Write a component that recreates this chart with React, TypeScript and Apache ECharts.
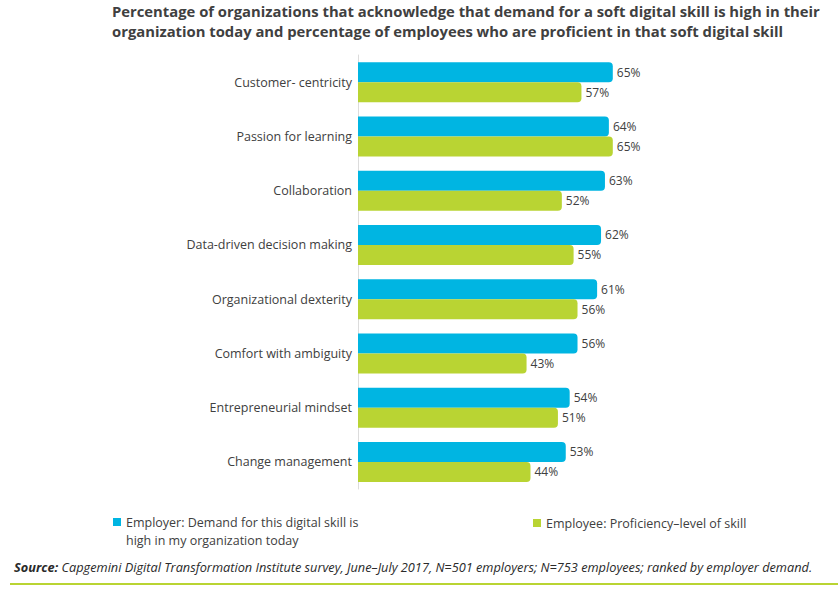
import React, { useEffect, useRef } from "react";
import * as echarts from "echarts";

const categories = [
  "Customer- centricity",
  "Passion for learning",
  "Collaboration",
  "Data-driven decision making",
  "Organizational dexterity",
  "Comfort with ambiguity",
  "Entrepreneurial mindset",
  "Change management",
];
const employerDemand = [65, 64, 63, 62, 61, 56, 54, 53];
const employeeProficiency = [57, 65, 52, 55, 56, 43, 51, 44];
const seriesNames = [
  "Employer: Demand for this digital skill is\nhigh in my organization today",
  "Employee: Proficiency–level of skill",
];
const titleText =
  "Percentage of organizations that acknowledge that demand for a soft digital skill is high in their\norganization today and percentage of employees who are proficient in that soft digital skill";

const FONT = "'Open Sans', 'Noto Sans', sans-serif";
const BLUE = "#00b5e2";
const GREEN = "#b9d433";
const TEXT = "#404040";

export default function App() {
  const ref = useRef<HTMLDivElement>(null);
  useEffect(() => {
    document.body.style.margin = "0";
    const chart = echarts.init(ref.current!, null, { renderer: "svg" });
    const label = {
      show: true,
      position: "right",
      distance: 4,
      formatter: "{c}%",
      color: TEXT,
      fontSize: 12,
      fontFamily: FONT,
    };
    const legendText = { color: TEXT, fontSize: 12.5, fontFamily: FONT, lineHeight: 18 };
    chart.setOption({
      animation: false,
      textStyle: { fontFamily: FONT },
      title: {
        text: titleText,
        left: 112,
        top: 1,
        padding: 0,
        textStyle: {
          fontFamily: FONT,
          fontSize: 14.8,
          fontWeight: "bold",
          color: TEXT,
          lineHeight: 20,
        },
      },
      legend: [
        {
          data: [seriesNames[0]],
          left: 113,
          top: 513,
          padding: 0,
          icon: "path://M0,0h8v8h-8z M0,26h0.01v0.01h-0.01z",
          symbolKeepAspect: false,
          itemWidth: 8,
          itemHeight: 26,
          itemGap: 5,
          selectedMode: false,
          textStyle: legendText,
        },
        {
          data: [seriesNames[1]],
          left: 533,
          top: 514,
          padding: 0,
          icon: "rect",
          itemWidth: 8,
          itemHeight: 8,
          itemGap: 5,
          selectedMode: false,
          textStyle: legendText,
        },
      ],
      grid: { left: 358, top: 55, width: 392, height: 434, containLabel: false },
      xAxis: {
        type: "value",
        min: 0,
        max: 100,
        show: false,
      },
      yAxis: {
        type: "category",
        data: categories,
        inverse: true,
        axisLine: { show: true, lineStyle: { color: "#dcdcdc", width: 1 } },
        axisTick: { show: false },
        axisLabel: {
          color: TEXT,
          fontSize: 12.5,
          fontFamily: FONT,
          margin: 6,
        },
      },
      series: [
        {
          name: seriesNames[0],
          type: "bar",
          data: employerDemand,
          barWidth: 20,
          barGap: "0%",
          itemStyle: { color: BLUE, borderRadius: [0, 4, 4, 0] },
          label,
        },
        {
          name: seriesNames[1],
          type: "bar",
          data: employeeProficiency,
          barWidth: 20,
          barGap: "0%",
          itemStyle: { color: GREEN, borderRadius: [0, 4, 4, 0] },
          label,
        },
      ],
      graphic: [
        {
          type: "text",
          left: 14,
          top: 560,
          style: {
            rich: {
              b: { fontWeight: "bold", fontStyle: "italic", fontSize: 12.75, fontFamily: FONT, fill: "#2a2a2a" },
              n: { fontStyle: "italic", fontSize: 12.75, fontFamily: FONT, fill: "#2a2a2a" },
            },
            text:
              "{b|Source:} {n|Capgemini Digital Transformation Institute survey, June–July 2017, N=501 employers; N=753 employees; ranked by employer demand.}",
          },
        },
        {
          type: "line",
          shape: { x1: 10, y1: 584, x2: 838, y2: 584 },
          style: { stroke: GREEN, lineWidth: 2 },
        },
      ],
    });
    return () => chart.dispose();
  }, []);
  return <div ref={ref} style={{ width: 838, height: 590 }} />;
}
